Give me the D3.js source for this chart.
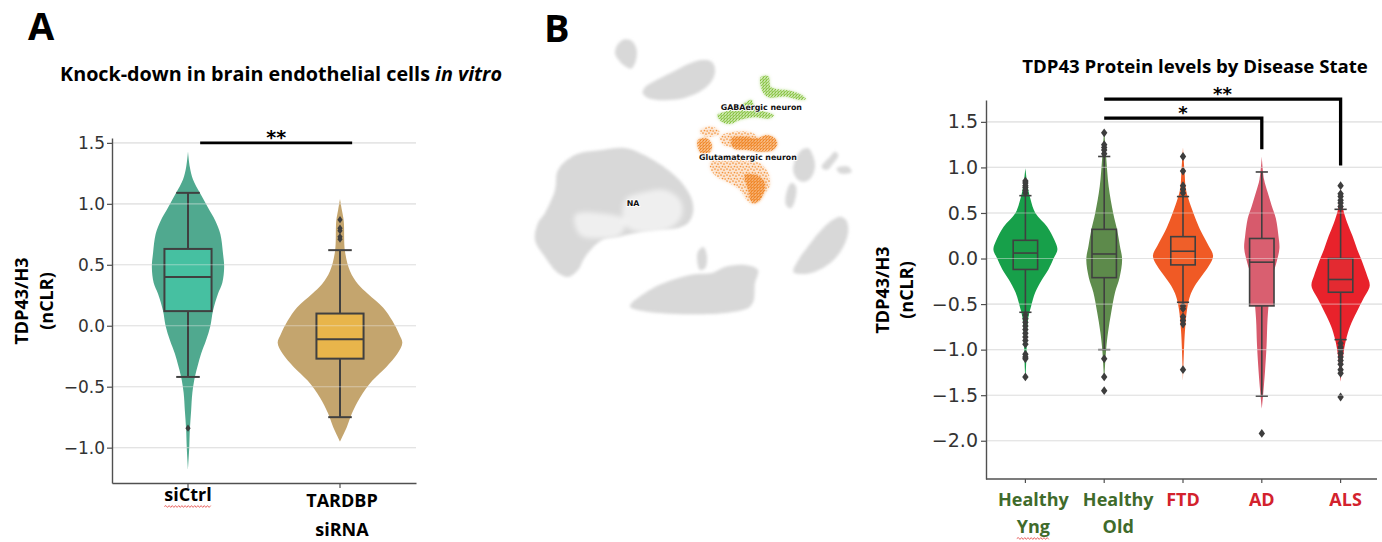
<!DOCTYPE html>
<html><head><meta charset="utf-8">
<script src="https://cdn.jsdelivr.net/npm/d3@7"></script>
<style>
body{margin:0;background:#fff;}
svg{display:block;}
</style></head><body>
<svg id="fig" width="1382" height="542"></svg>
<script>
// ================= Panel A: knock-down in vitro =================
const catsA = ["siCtrl", "TARDBP siRNA"];
const ticksA = [-1.0, -0.5, 0.0, 0.5, 1.0, 1.5];
// box statistics: q1, median, q3, whisker ends
const boxA = [
  {q1: 0.12, med: 0.40, q3: 0.63, lo: -0.42, hi: 1.09},
  {q1: -0.27, med: -0.11, q3: 0.10, lo: -0.75, hi: 0.62}
];
const outliersA = [[-0.84], [0.87, 0.80, 0.78, 0.73, 0.71]];
// kernel density profiles: [value, relative density]
const kdeA = [
  [[1.43,0],[1.3,.03],[1.2,.08],[1.09,.19],[0.97,.32],[0.86,.44],[0.75,.52],[0.6,.56],[0.48,.58],[0.35,.55],[0.26,.48],[0.12,.40],[0,.36],[-0.12,.29],[-0.23,.21],[-0.32,.16],[-0.42,.11],[-0.55,.07],[-0.7,.05],[-0.85,.03],[-1.0,.02],[-1.18,0]],
  [[1.04,0],[0.95,.03],[0.86,.06],[0.61,.08],[0.45,.16],[0.34,.29],[0.26,.45],[0.15,.69],[0.04,.84],[-0.07,.95],[-0.14,1],[-0.23,.92],[-0.34,.74],[-0.45,.52],[-0.59,.32],[-0.72,.19],[-0.83,.11],[-0.95,0]]
];
const sigA = [{from: 0.08, to: 1.08, level: 1.5, label: "**"}];

// ================= Panel B: disease state =================
const catsB = ["Healthy Yng", "Healthy Old", "FTD", "AD", "ALS"];
const labelLinesB = [["Healthy", "Yng"], ["Healthy", "Old"], ["FTD"], ["AD"], ["ALS"]];
const ticksB = [-2.0, -1.5, -1.0, -0.5, 0.0, 0.5, 1.0, 1.5];
const boxB = [
  {q1: -0.12, med: 0.06, q3: 0.20, lo: -0.59, hi: 0.69},
  {q1: -0.21, med: 0.05, q3: 0.32, lo: -1.00, hi: 1.12},
  {q1: -0.07, med: 0.08, q3: 0.24, lo: -0.48, hi: 0.68},
  {q1: -0.52, med: -0.04, q3: 0.22, lo: -1.51, hi: 0.95},
  {q1: -0.37, med: -0.23, q3: 0.00, lo: -0.89, hi: 0.54}
];
const outliersB = [
  [0.72,0.75,0.78,0.80,0.83,0.85,-0.62,-0.66,-0.70,-0.74,-0.78,-0.82,-0.86,-0.90,-0.94,-1.05,-1.08,-1.10,-1.30],
  [1.15,1.19,1.22,1.25,1.38,-1.10,-1.30,-1.45],
  [0.72,0.76,0.80,0.96,1.12,-0.52,-0.55,-0.64,-0.68,-0.72,-1.22],
  [-1.92],
  [0.57,0.61,0.64,0.68,0.71,0.80,-0.93,-0.97,-1.00,-1.04,-1.08,-1.12,-1.16,-1.22,-1.26,-1.52]
];
const kdeB = [
  [[0.99,0],[0.79,.07],[0.65,.16],[0.5,.31],[0.35,.68],[0.21,.90],[0.1,1],[0,.88],[-0.12,.72],[-0.23,.52],[-0.37,.31],[-0.52,.18],[-0.65,.09],[-0.85,.05],[-1.1,.03],[-1.35,0]],
  [[1.42,0],[1.12,.06],[0.79,.14],[0.5,.28],[0.32,.40],[0.14,.49],[-0.01,.56],[-0.21,.48],[-0.37,.34],[-0.59,.22],[-0.81,.12],[-1.0,.06],[-1.35,0]],
  [[1.22,0],[0.95,.05],[0.76,.09],[0.57,.25],[0.42,.41],[0.3,.56],[0.14,.80],[0.03,.94],[-0.08,.81],[-0.19,.59],[-0.3,.37],[-0.41,.22],[-0.55,.13],[-0.8,.06],[-1.35,0]],
  [[1.12,0],[0.87,.07],[0.73,.18],[0.58,.31],[0.44,.44],[0.25,.52],[0.11,.55],[-0.04,.46],[-0.22,.31],[-0.41,.24],[-0.66,.18],[-0.95,.15],[-1.24,.10],[-1.46,.05],[-1.65,0]],
  [[0.78,0],[0.54,.08],[0.39,.21],[0.25,.37],[0.1,.52],[-0.04,.68],[-0.19,.83],[-0.3,.91],[-0.45,.70],[-0.59,.50],[-0.74,.30],[-0.89,.17],[-1.07,.08],[-1.35,0]]
];
// significance brackets between groups (group index), level and right-hand drop
const sigB = [
  {from: 1, to: 4, level: 1.75, drop: 1.02, label: "**"},
  {from: 1, to: 3, level: 1.54, drop: 1.20, label: "*"}
];

// ================= Panel B (left): UMAP of nuclei =================
const umapGray = [
  [[31.8,78.2],[33.8,77.5],[35,75],[34.8,72],[33.5,69.5],[31.8,70],[30,71.5],[28.5,74],[29.2,76.5],[30.5,77.8]],
  [[37.5,63.8],[42,66.5],[47,69],[51,71],[54.5,72],[57.5,71.5],[58.5,69.5],[58,66.5],[56,64],[53,62],[49,60.5],[45,60],[41,60],[38,60.8],[36.8,62.2]],
  [[11.4,39],[16.5,43.5],[24.6,45],[31.5,45.6],[38.4,42.9],[44.4,39],[48.6,35.1],[51.6,30],[51.9,26.1],[50.4,23.1],[47.4,21.6],[41.4,21],[34.5,20.1],[29.4,18.9],[24.6,18],[19.5,12.9],[17.4,9],[14.4,6.9],[11.4,8.1],[7.5,12.9],[4.5,18],[5.4,23.1],[7.5,26.1],[10.5,33]],
  [[33,-2],[37.5,2.1],[43,5],[48.6,6.9],[53,7.8],[57.6,8.1],[61.5,9.9],[67.5,10.5],[71.4,9],[70.5,5.1],[69,-2]],
  [[53.4,14.5],[55,15.9],[56.1,13],[55.5,9.5],[54,9],[53.2,11.5]],
  [[82,8.5],[83.5,12],[86,15.5],[89.5,20],[93,23.5],[96,25],[97.8,24],[98.5,21],[97.5,17],[95,13],[91.5,10],[87.5,8.2],[84.5,7.8]],
  [[84.5,45],[86.5,45.5],[88,43],[88.5,40],[87.5,37],[85.5,35.5],[83.5,36],[82,38.5],[82.5,42]],
  [[81.5,35.2],[82.8,34],[82.5,30],[81.2,27.5],[79.8,28.5],[80,32.5]],
  [[90.5,40],[93,43],[94.5,44.5],[95.5,43.5],[94,41],[92,39]],
  [[95,39.5],[98.5,40],[99.5,38.5],[96,38]]
];
// thinly populated pockets inside the large cluster
const umapSparse = [
  [[31.5,30],[37.5,32.4],[43.5,33],[48,30],[48.6,25.5],[45,21.6],[36,20.4],[31.5,22.5]],
  [[16.5,25.5],[24,26],[31.5,24],[30,19.5],[24,18.5],[18,19.5]]
];
const umapGaba = [
  [[72.2,66.8],[74.5,67.2],[75.2,64],[77.5,63.2],[81,62.8],[84.5,61.5],[85.8,60.2],[84,60],[80,61],[77,60.8],[74.5,60.8],[72.8,62.5]],
  [[59.2,55.5],[61.5,56.5],[65,57.8],[68,59.5],[69.5,60],[70.5,57.5],[73.5,56.5],[76.2,55.5],[75,54.5],[70,54.8],[66,54],[63,52.8],[60.5,53.5]]
];
const umapGlutDense = [
  [[53.4,48],[56,48.6],[57.6,46.5],[57,44.4],[54.6,43.8],[53.4,45.6]],
  [[63.5,48.5],[67,49],[71,48.5],[74,49.5],[76.5,48.5],[77.2,46.8],[76,45],[72,44.5],[68,45],[64,45.5]],
  [[67.5,37.5],[71.5,37.2],[73.5,35],[73,32],[71.5,29.5],[69.5,29.5],[68.5,33]]
];
const umapGlutSparse = [
  [[57.5,42],[62,43],[68,42],[72,41],[74.5,38],[75,34.5],[73.5,32],[72,30],[70,28.8],[68,30],[66,33],[62,35.5],[59,37],[57,39.5]],
  [[54,51],[58,52],[60,50],[57,49],[54.5,49.5]],
  [[60,49],[64,50.5],[70,50],[72,47],[66,46],[61,46.5]]
];
const umapLabels = [
  {text: "GABAergic neuron", at: [72.4, 57.9]},
  {text: "Glutamatergic neuron", at: [68.4, 42.7]},
  {text: "NA", at: [33.9, 29.1]}
];

// ---------------- styles ----------------
const violinFillA = ["#50a98f", "#c4a56e"];
const boxFillA = ["#46c0a1", "#e8b54b"];
const violinFillB = ["#17a04a", "#5f8c4d", "#f05a25", "#d75a6c", "#e8222b"];
const boxFillB = ["#1b9c48", "#5d8a4b", "#ef5f29", "#d95f70", "#e32a31"];
const labelColorB = ["#3f6b2b", "#3f6b2b", "#d3222d", "#d3222d", "#d3222d"];
const labelShiftB = [8, 14, 0, 0, 5];
const lineCol = "#404040";
const axisCol = "#505050";
const boldFont = "'Open Sans', 'DejaVu Sans', sans-serif";
const tickFont = "'DejaVu Sans', sans-serif";

const svg = d3.select("#fig");
const defs = svg.append("defs");
defs.append("filter").attr("id", "soft").attr("x", "-10%").attr("y", "-10%").attr("width", "120%").attr("height", "120%")
  .append("feGaussianBlur").attr("stdDeviation", 1.7);
defs.append("filter").attr("id", "softer").attr("x", "-20%").attr("y", "-20%").attr("width", "140%").attr("height", "140%")
  .append("feGaussianBlur").attr("stdDeviation", 2.6);

// dotted fills for the point clouds
function dotPattern(id, size, pts, r, col) {
  const p = defs.append("pattern").attr("id", id).attr("patternUnits", "userSpaceOnUse").attr("width", size).attr("height", size);
  pts.forEach(q => p.append("circle").attr("cx", q[0]).attr("cy", q[1]).attr("r", r).attr("fill", col));
}
dotPattern("grain", 5, [[0.8,1.2],[3.4,0.6],[2.1,3.1],[4.4,3.9],[1.2,4.4]], 0.55, "#ffffff");
dotPattern("glutSparseDots", 6, [[1,1],[4,2],[2.5,4.5],[5.2,5]], 0.85, "#f28a2a");
dotPattern("glutDenseDots", 3, [[0.7,0.8],[2.2,1.4],[1.4,2.5]], 0.75, "#ef8424");
dotPattern("gabaDots", 3, [[0.7,0.8],[2.2,1.4],[1.4,2.5]], 0.7, "#83c23a");

function diamond(h, w) { return `M0,${-h}L${w},0L0,${h}L${-w},0Z`; }

function violinPanel(g, cfg) {
  const {x, y, w, cats, ticks, kde, box, outliers, vFill, bFill, lw, dia, grid} = cfg;
  const [gx0, gx1] = grid;
  // background grid
  g.append("g").selectAll("line").data(ticks).join("line")
    .attr("x1", gx0).attr("x2", gx1).attr("y1", d => y(d)).attr("y2", d => y(d))
    .attr("stroke", "#dadada").attr("stroke-width", 1.1);
  const bw = x.bandwidth();
  const boxW = bw * 0.31;
  cats.forEach((c, i) => {
    const cx = x(c) + bw / 2;
    const area = d3.area()
      .y(d => y(d[0])).x0(d => cx - w(d[1])).x1(d => cx + w(d[1]))
      .curve(d3.curveCatmullRom.alpha(0.5));
    g.append("path").attr("d", area(kde[i])).attr("fill", vFill[i]);
  });
  cats.forEach((c, i) => {
    const cx = x(c) + bw / 2;
    const s = box[i];
    const bg = g.append("g").attr("stroke", lineCol).attr("stroke-width", lw).attr("fill", "none");
    bg.append("line").attr("x1", cx).attr("x2", cx).attr("y1", y(s.hi)).attr("y2", y(s.q3));
    bg.append("line").attr("x1", cx).attr("x2", cx).attr("y1", y(s.q1)).attr("y2", y(s.lo));
    bg.append("rect").attr("x", cx - boxW / 2).attr("width", boxW)
      .attr("y", y(s.q3)).attr("height", y(s.q1) - y(s.q3)).attr("fill", bFill[i]);
    bg.append("line").attr("x1", cx - boxW / 2).attr("x2", cx + boxW / 2).attr("y1", y(s.med)).attr("y2", y(s.med));
    [s.hi, s.lo].forEach(v => bg.append("line").attr("x1", cx - boxW / 4).attr("x2", cx + boxW / 4).attr("y1", y(v)).attr("y2", y(v)));
    g.append("g").selectAll("path").data(outliers[i]).join("path")
      .attr("d", diamond(dia[0], dia[1])).attr("transform", d => `translate(${cx},${y(d)})`)
      .attr("fill", "#3d3d3d");
  });
  // grid shows faintly through the marks
  g.append("g").selectAll("line").data(ticks).join("line")
    .attr("x1", gx0).attr("x2", gx1).attr("y1", d => y(d)).attr("y2", d => y(d))
    .attr("stroke", "#eeeeee").attr("stroke-opacity", 0.45).attr("stroke-width", 1.1);
}

function styleAxis(ax, fs) {
  ax.select(".domain").attr("stroke", axisCol).attr("stroke-width", 1.4);
  ax.selectAll(".tick line").attr("stroke", axisCol).attr("stroke-width", 1.2);
  ax.selectAll(".tick text").attr("fill", "#333").attr("font-family", tickFont).attr("font-size", fs);
}

function fitWidth(t, target) {
  const fs = parseFloat(t.attr("font-size"));
  const wNow = t.node().getBBox().width;
  t.attr("font-size", fs * target / wNow);
}

function squiggle(t) {
  const b = t.node().getBBox();
  const yy = b.y + b.height + 0.5;
  let d = `M${b.x},${yy}`; let up = true;
  for (let xx = b.x + 1.6; xx <= b.x + b.width; xx += 1.6) { d += `L${xx},${yy + (up ? -0.9 : 0.9)}`; up = !up; }
  svg.append("path").attr("d", d).attr("fill", "none").attr("stroke", "#e2433f").attr("stroke-width", 0.8);
}

// ================= draw Panel A =================
const yA = d3.scaleLinear().domain([-1.29, 1.54]).range([483, 138]);
const xA = d3.scaleBand().domain(catsA).range([112, 416]);
const wA = d3.scaleLinear().domain([0, 1]).range([0, 0.41 * xA.bandwidth()]);
const gA = svg.append("g");
violinPanel(gA, {x: xA, y: yA, w: wA, cats: catsA, ticks: ticksA, kde: kdeA, box: boxA, outliers: outliersA,
  vFill: violinFillA, bFill: boxFillA, lw: 2, dia: [3.6, 2.6], grid: [112, 416]});
const axA = gA.append("g").attr("transform", "translate(112,0)")
  .call(d3.axisLeft(yA).tickValues(ticksA).tickSize(5).tickPadding(2).tickSizeOuter(0).tickFormat(d3.format(".1f")));
styleAxis(axA, 17);
const axAx = gA.append("g").attr("transform", "translate(0,483)")
  .call(d3.axisBottom(xA).tickSize(5).tickSizeOuter(0).tickFormat(""));
styleAxis(axAx, 17);

const idxA = d3.scaleLinear().domain([0, 1]).range([xA(catsA[0]) + xA.bandwidth() / 2, xA(catsA[1]) + xA.bandwidth() / 2]);
sigA.forEach(s => {
  gA.append("line").attr("x1", idxA(s.from)).attr("x2", idxA(s.to)).attr("y1", yA(s.level)).attr("y2", yA(s.level))
    .attr("stroke", "#000").attr("stroke-width", 2.6);
  gA.append("text").attr("x", idxA((s.from + s.to) / 2)).attr("y", yA(s.level) + 1)
    .attr("text-anchor", "middle").attr("font-family", tickFont).attr("font-weight", "bold").attr("font-size", 19)
    .text(s.label);
});

svg.append("text").attr("x", 28).attr("y", 40).attr("font-family", boldFont).attr("font-weight", 700)
  .attr("font-size", 38).text("A");
const titleA = svg.append("text").attr("x", 281).attr("y", 81).attr("text-anchor", "middle")
  .attr("font-family", boldFont).attr("font-weight", 700).attr("font-size", 18);
titleA.append("tspan").text("Knock-down in brain endothelial cells ");
titleA.append("tspan").attr("font-style", "italic").text("in vitro");
fitWidth(titleA, 442);

const ylabA = svg.append("text").attr("transform", "translate(28,301) rotate(-90)").attr("text-anchor", "middle")
  .attr("font-family", boldFont).attr("font-weight", 700).attr("font-size", 18);
ylabA.append("tspan").attr("x", 0).attr("dy", 0).text("TDP43/H3");
ylabA.append("tspan").attr("x", 0).attr("dy", 25).text("(nCLR)");

const xlA1 = svg.append("text").attr("x", xA(catsA[0]) + xA.bandwidth() / 2).attr("y", 501).attr("text-anchor", "middle")
  .attr("font-family", boldFont).attr("font-weight", 700).attr("font-size", 18).text("siCtrl");
squiggle(xlA1);
const xlA2 = svg.append("text").attr("text-anchor", "middle").attr("font-family", boldFont).attr("font-weight", 700).attr("font-size", 18);
catsA[1].split(" ").forEach((s, k) => xlA2.append("tspan").attr("x", xA(catsA[1]) + xA.bandwidth() / 2 + 2).attr("y", 507 + 29 * k).text(s));

// ================= draw UMAP =================
const umapX = d3.scaleLinear().domain([0, 102]).range([520, 860]);
const umapY = d3.scaleLinear().domain([0, 90]).range([300, 0]);
const blob = d3.line().x(d => umapX(d[0])).y(d => umapY(d[1])).curve(d3.curveCatmullRomClosed.alpha(0.5));
const gU = svg.append("g");
const grayG = gU.append("g").attr("filter", "url(#soft)");
grayG.selectAll("path.base").data(umapGray).join("path").attr("class", "base")
  .attr("d", blob).attr("fill", "#d4d4d4");
grayG.selectAll("path.grain").data(umapGray).join("path").attr("class", "grain")
  .attr("d", blob).attr("fill", "url(#grain)").attr("opacity", 0.5);
gU.append("g").attr("filter", "url(#softer)").selectAll("path").data(umapSparse).join("path")
  .attr("d", blob).attr("fill", "#ffffff").attr("opacity", 0.6);
gU.append("g").selectAll("path").data(umapGlutSparse).join("path").attr("d", blob).attr("fill", "url(#glutSparseDots)");
gU.append("g").attr("filter", "url(#soft)").selectAll("path").data(umapGlutSparse).join("path").attr("d", blob)
  .attr("fill", "#f6a660").attr("opacity", 0.3);
gU.append("g").attr("filter", "url(#soft)").selectAll("path").data(umapGlutDense).join("path").attr("d", blob)
  .attr("fill", "#f39a45").attr("opacity", 0.6);
gU.append("g").selectAll("path").data(umapGlutDense).join("path").attr("d", blob).attr("fill", "url(#glutDenseDots)");
gU.append("g").attr("filter", "url(#soft)").selectAll("path").data(umapGaba).join("path").attr("d", blob)
  .attr("fill", "#a3d26a").attr("opacity", 0.55);
gU.append("g").selectAll("path").data(umapGaba).join("path").attr("d", blob).attr("fill", "url(#gabaDots)");
gU.append("g").selectAll("text").data(umapLabels).join("text")
  .attr("x", d => umapX(d.at[0])).attr("y", d => umapY(d.at[1]) + 2.7).attr("text-anchor", "middle")
  .attr("font-family", tickFont).attr("font-weight", "bold").attr("font-size", 7.9)
  .attr("stroke", "#fff").attr("stroke-width", 1.6).attr("paint-order", "stroke").attr("fill", "#111")
  .text(d => d.text);

svg.append("text").attr("x", 544).attr("y", 42).attr("font-family", boldFont).attr("font-weight", 700)
  .attr("font-size", 38).text("B");

// ================= draw Panel B =================
const yB = d3.scaleLinear().domain([-2.42, 1.74]).range([479, 100]);
const xB = d3.scaleBand().domain(catsB).range([986, 1380]);
const wB = d3.scaleLinear().domain([0, 1]).range([0, 0.406 * xB.bandwidth()]);
const gB = svg.append("g");
violinPanel(gB, {x: xB, y: yB, w: wB, cats: catsB, ticks: ticksB, kde: kdeB, box: boxB, outliers: outliersB,
  vFill: violinFillB, bFill: boxFillB, lw: 1.6, dia: [4.4, 3.2], grid: [986, 1382]});
const axB = gB.append("g").attr("transform", "translate(986,0)")
  .call(d3.axisLeft(yB).tickValues(ticksB).tickSize(5).tickPadding(3).tickSizeOuter(0).tickFormat(d3.format(".1f")));
styleAxis(axB, 19);
const axBx = gB.append("g").attr("transform", "translate(0,479)")
  .call(d3.axisBottom(xB).tickSize(4).tickSizeOuter(0).tickFormat(""));
styleAxis(axBx, 19);
axBx.select(".domain").attr("d", "M986,0H1377");

const cxB = i => xB(catsB[i]) + xB.bandwidth() / 2;
sigB.forEach(s => {
  gB.append("path")
    .attr("d", `M${cxB(s.from)},${yB(s.level)}H${cxB(s.to)}V${yB(s.drop)}`)
    .attr("fill", "none").attr("stroke", "#000").attr("stroke-width", 3.3);
  gB.append("text").attr("x", (cxB(s.from) + cxB(s.to)) / 2).attr("y", yB(s.level) + 1)
    .attr("text-anchor", "middle").attr("font-family", tickFont).attr("font-weight", "bold").attr("font-size", 18)
    .text(s.label);
});

const titleB = svg.append("text").attr("x", 1195).attr("y", 73).attr("text-anchor", "middle")
  .attr("font-family", boldFont).attr("font-weight", 700).attr("font-size", 17).text("TDP43 Protein levels by Disease State");
fitWidth(titleB, 346);

const ylabB = svg.append("text").attr("transform", "translate(889,290) rotate(-90)").attr("text-anchor", "middle")
  .attr("font-family", boldFont).attr("font-weight", 700).attr("font-size", 18);
ylabB.append("tspan").attr("x", 0).attr("dy", 0).text("TDP43/H3");
ylabB.append("tspan").attr("x", 0).attr("dy", 24).text("(nCLR)");

labelLinesB.forEach((lines, i) => {
  lines.forEach((s, k) => {
    const t = svg.append("text").attr("x", cxB(i) + labelShiftB[i]).attr("y", 506 + 27 * k).attr("text-anchor", "middle")
      .attr("font-family", boldFont).attr("font-weight", 700).attr("font-size", 18).attr("fill", labelColorB[i]).text(s);
    if (s === "Yng") squiggle(t);
  });
});
</script>
</body></html>
